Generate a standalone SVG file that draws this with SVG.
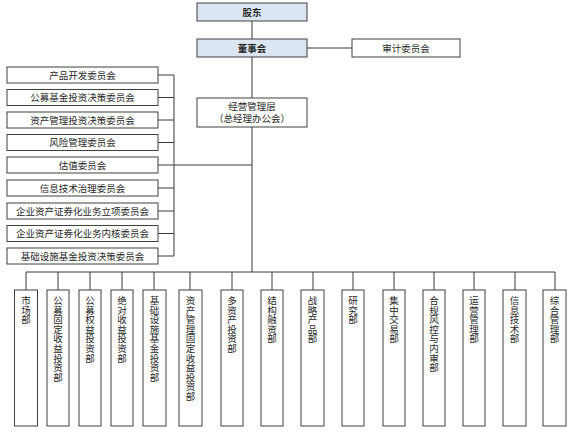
<svg xmlns="http://www.w3.org/2000/svg" width="576" height="432" viewBox="0 0 576 432">
<style>
.box{fill:#ffffff;stroke:#404040;stroke-width:1}
.top{fill:#dce6f2;stroke:#404040;stroke-width:1}
.t{font-family:"Noto Sans CJK SC","Liberation Sans",sans-serif;font-size:9.5px;fill:#262626;text-anchor:middle}
.b{font-weight:bold}
.ln{stroke:#3a3a3a;stroke-width:1;fill:none}
</style>
<rect width="576" height="432" fill="#ffffff"/>
<g id="connectors">
<path class="ln" d="M252 21V98M252 127V272M307 48H352"/>
<path class="ln" d="M158 75H174M158 97.5H174M158 120H174M158 142.5H174M158 165H252M158 188H174M158 211H174M158 233.5H174M158 256H174M174 75V256"/>
<path class="ln" d="M26 272H555M26 272V290M58 272V290M90 272V290M122 272V290M154 272V290M190 272V290M232 272V290M272 272V290M313 272V290M353 272V290M394 272V290M434 272V290M474 272V290M515 272V290M555 272V290"/>
</g>
<g id="n-gudong"><rect class="top" x="197" y="3" width="110" height="18"/><text class="t b" x="252" y="15.5">股东</text></g>
<g id="n-dongshihui"><rect class="top" x="197" y="39" width="110" height="18"/><text class="t b" x="252" y="51.5">董事会</text></g>
<g id="n-shenji"><rect class="box" x="352" y="39" width="108" height="18"/><text class="t" x="406" y="51.5">审计委员会</text></g>
<g id="n-jingying"><rect class="box" x="197" y="98" width="110" height="29"/><text class="t" x="252" y="110">经营管理层</text><text class="t" x="252" y="122">（总经理办公会）</text></g>
<g id="c1"><rect class="box" x="7" y="67" width="151" height="16"/><text class="t" x="82.5" y="78.5">产品开发委员会</text></g>
<g id="c2"><rect class="box" x="7" y="89.5" width="151" height="16"/><text class="t" x="82.5" y="101">公募基金投资决策委员会</text></g>
<g id="c3"><rect class="box" x="7" y="112" width="151" height="16"/><text class="t" x="82.5" y="123.5">资产管理投资决策委员会</text></g>
<g id="c4"><rect class="box" x="7" y="134.5" width="151" height="16"/><text class="t" x="82.5" y="146">风险管理委员会</text></g>
<g id="c5"><rect class="box" x="7" y="157" width="151" height="16"/><text class="t" x="82.5" y="168.5">估值委员会</text></g>
<g id="c6"><rect class="box" x="7" y="180" width="151" height="16"/><text class="t" x="82.5" y="191.5">信息技术治理委员会</text></g>
<g id="c7"><rect class="box" x="7" y="203" width="151" height="16"/><text class="t" x="82.5" y="214.5">企业资产证券化业务立项委员会</text></g>
<g id="c8"><rect class="box" x="7" y="225.5" width="151" height="16"/><text class="t" x="82.5" y="237">企业资产证券化业务内核委员会</text></g>
<g id="c9"><rect class="box" x="7" y="248" width="151" height="16"/><text class="t" x="82.5" y="259.5">基础设施基金投资决策委员会</text></g>
<g id="d1"><rect class="box" x="14.5" y="290" width="23" height="136"/><text class="t" x="26" y="304"><tspan x="26">市</tspan><tspan x="26" dy="9.6">场</tspan><tspan x="26" dy="9.6">部</tspan></text></g>
<g id="d2"><rect class="box" x="47" y="290" width="22" height="136"/><text class="t" x="58" y="304"><tspan x="58">公</tspan><tspan x="58" dy="9.6">募</tspan><tspan x="58" dy="9.6">固</tspan><tspan x="58" dy="9.6">定</tspan><tspan x="58" dy="9.6">收</tspan><tspan x="58" dy="9.6">益</tspan><tspan x="58" dy="9.6">投</tspan><tspan x="58" dy="9.6">资</tspan><tspan x="58" dy="9.6">部</tspan></text></g>
<g id="d3"><rect class="box" x="79" y="290" width="22" height="136"/><text class="t" x="90" y="304"><tspan x="90">公</tspan><tspan x="90" dy="9.6">募</tspan><tspan x="90" dy="9.6">权</tspan><tspan x="90" dy="9.6">益</tspan><tspan x="90" dy="9.6">投</tspan><tspan x="90" dy="9.6">资</tspan><tspan x="90" dy="9.6">部</tspan></text></g>
<g id="d4"><rect class="box" x="111" y="290" width="22" height="136"/><text class="t" x="122" y="304"><tspan x="122">绝</tspan><tspan x="122" dy="9.6">对</tspan><tspan x="122" dy="9.6">收</tspan><tspan x="122" dy="9.6">益</tspan><tspan x="122" dy="9.6">投</tspan><tspan x="122" dy="9.6">资</tspan><tspan x="122" dy="9.6">部</tspan></text></g>
<g id="d5"><rect class="box" x="143" y="290" width="23" height="136"/><text class="t" x="154.5" y="304"><tspan x="154.5">基</tspan><tspan x="154.5" dy="9.6">础</tspan><tspan x="154.5" dy="9.6">设</tspan><tspan x="154.5" dy="9.6">施</tspan><tspan x="154.5" dy="9.6">基</tspan><tspan x="154.5" dy="9.6">金</tspan><tspan x="154.5" dy="9.6">投</tspan><tspan x="154.5" dy="9.6">资</tspan><tspan x="154.5" dy="9.6">部</tspan></text></g>
<g id="d6"><rect class="box" x="179" y="290" width="23" height="136"/><text class="t" x="190.5" y="304"><tspan x="190.5">资</tspan><tspan x="190.5" dy="9.6">产</tspan><tspan x="190.5" dy="9.6">管</tspan><tspan x="190.5" dy="9.6">理</tspan><tspan x="190.5" dy="9.6">固</tspan><tspan x="190.5" dy="9.6">定</tspan><tspan x="190.5" dy="9.6">收</tspan><tspan x="190.5" dy="9.6">益</tspan><tspan x="190.5" dy="9.6">投</tspan><tspan x="190.5" dy="9.6">资</tspan><tspan x="190.5" dy="9.6">部</tspan></text></g>
<g id="d7"><rect class="box" x="221" y="290" width="22" height="136"/><text class="t" x="232" y="304"><tspan x="232">多</tspan><tspan x="232" dy="9.6">资</tspan><tspan x="232" dy="9.6">产</tspan><tspan x="232" dy="9.6">投</tspan><tspan x="232" dy="9.6">资</tspan><tspan x="232" dy="9.6">部</tspan></text></g>
<g id="d8"><rect class="box" x="261" y="290" width="22" height="136"/><text class="t" x="272" y="304"><tspan x="272">结</tspan><tspan x="272" dy="9.6">构</tspan><tspan x="272" dy="9.6">融</tspan><tspan x="272" dy="9.6">资</tspan><tspan x="272" dy="9.6">部</tspan></text></g>
<g id="d9"><rect class="box" x="301" y="290" width="23" height="136"/><text class="t" x="312.5" y="304"><tspan x="312.5">战</tspan><tspan x="312.5" dy="9.6">略</tspan><tspan x="312.5" dy="9.6">产</tspan><tspan x="312.5" dy="9.6">品</tspan><tspan x="312.5" dy="9.6">部</tspan></text></g>
<g id="d10"><rect class="box" x="342" y="290" width="22" height="136"/><text class="t" x="353" y="304"><tspan x="353">研</tspan><tspan x="353" dy="9.6">究</tspan><tspan x="353" dy="9.6">部</tspan></text></g>
<g id="d11"><rect class="box" x="383" y="290" width="22" height="136"/><text class="t" x="394" y="304"><tspan x="394">集</tspan><tspan x="394" dy="9.6">中</tspan><tspan x="394" dy="9.6">交</tspan><tspan x="394" dy="9.6">易</tspan><tspan x="394" dy="9.6">部</tspan></text></g>
<g id="d12"><rect class="box" x="423" y="290" width="22" height="136"/><text class="t" x="434" y="304"><tspan x="434">合</tspan><tspan x="434" dy="9.6">规</tspan><tspan x="434" dy="9.6">风</tspan><tspan x="434" dy="9.6">控</tspan><tspan x="434" dy="9.6">与</tspan><tspan x="434" dy="9.6">内</tspan><tspan x="434" dy="9.6">审</tspan><tspan x="434" dy="9.6">部</tspan></text></g>
<g id="d13"><rect class="box" x="463" y="290" width="22" height="136"/><text class="t" x="474" y="304"><tspan x="474">运</tspan><tspan x="474" dy="9.6">营</tspan><tspan x="474" dy="9.6">管</tspan><tspan x="474" dy="9.6">理</tspan><tspan x="474" dy="9.6">部</tspan></text></g>
<g id="d14"><rect class="box" x="503" y="290" width="23" height="136"/><text class="t" x="514.5" y="304"><tspan x="514.5">信</tspan><tspan x="514.5" dy="9.6">息</tspan><tspan x="514.5" dy="9.6">技</tspan><tspan x="514.5" dy="9.6">术</tspan><tspan x="514.5" dy="9.6">部</tspan></text></g>
<g id="d15"><rect class="box" x="543" y="290" width="23" height="136"/><text class="t" x="554.5" y="304"><tspan x="554.5">综</tspan><tspan x="554.5" dy="9.6">合</tspan><tspan x="554.5" dy="9.6">管</tspan><tspan x="554.5" dy="9.6">理</tspan><tspan x="554.5" dy="9.6">部</tspan></text></g>
</svg>
